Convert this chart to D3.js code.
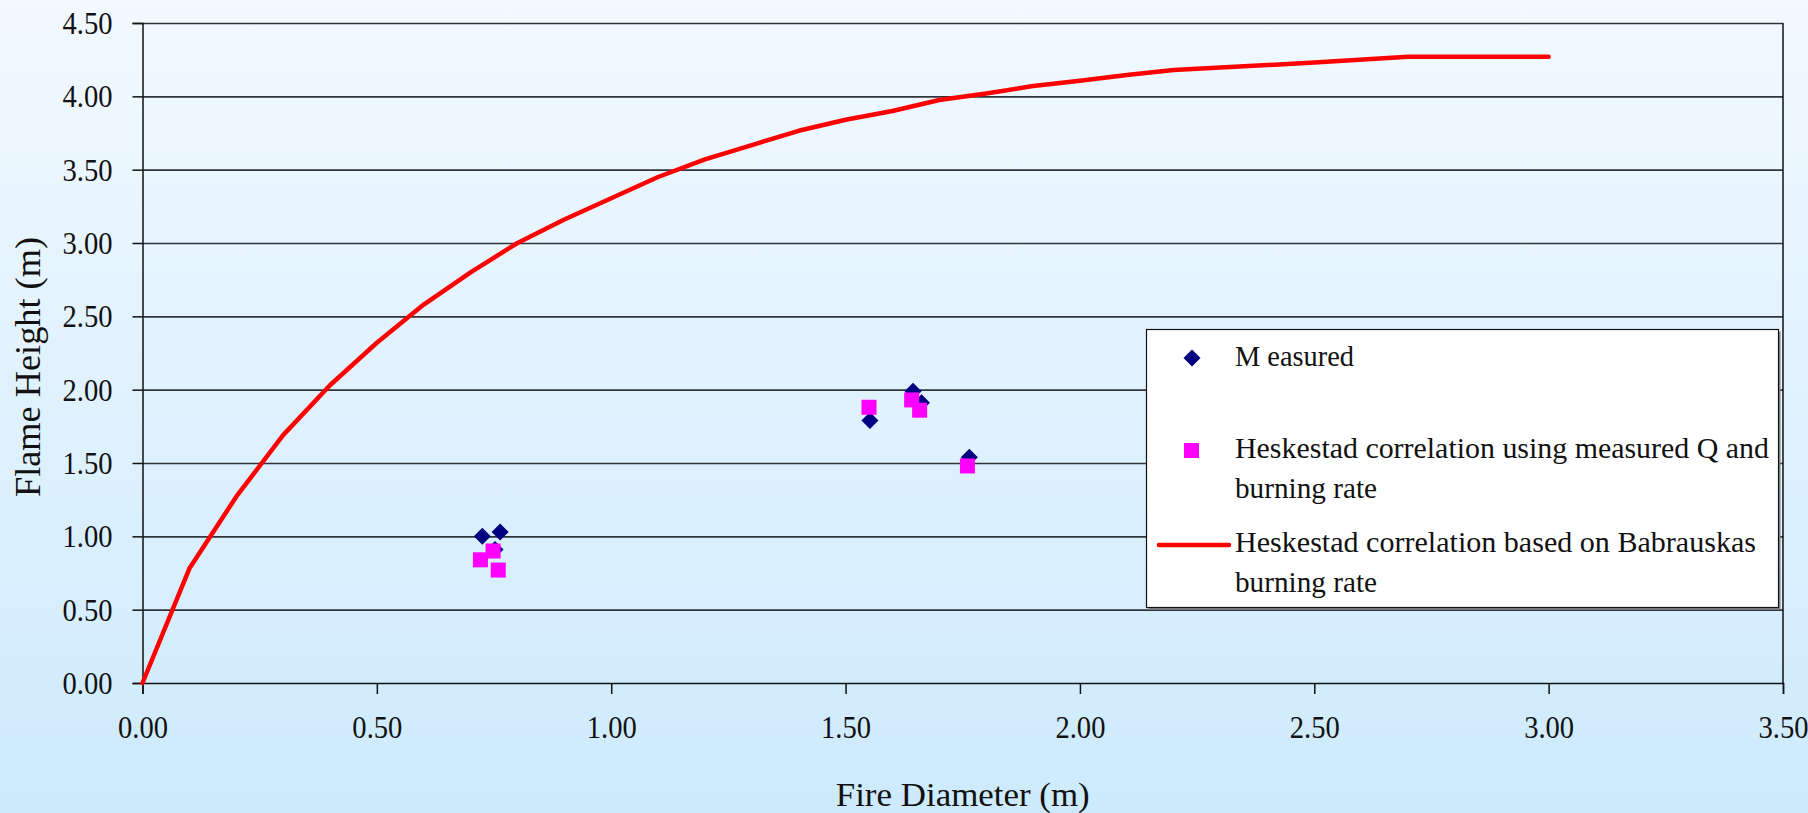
<!DOCTYPE html>
<html><head><meta charset="utf-8">
<script src="https://cdn.jsdelivr.net/npm/d3@7"></script>
<style>html,body{margin:0;padding:0;}body{width:1808px;height:813px;overflow:hidden;}</style>
</head><body>
<svg id="c" width="1808" height="813"></svg>
<script>
// ---- data ----
const xTickValues = [0, 0.5, 1.0, 1.5, 2.0, 2.5, 3.0, 3.5];
const yTickValues = [0, 0.5, 1.0, 1.5, 2.0, 2.5, 3.0, 3.5, 4.0, 4.5];

const curveDiameter = [0, 0.1, 0.2, 0.3, 0.4, 0.5, 0.6, 0.7, 0.8, 0.9, 1.0, 1.1, 1.2, 1.3, 1.4, 1.5, 1.6, 1.7, 1.8, 1.9, 2.0, 2.1, 2.2, 2.5, 2.7, 3.0];
const curveHeight   = [0, 0.78, 1.27, 1.69, 2.03, 2.32, 2.58, 2.80, 3.00, 3.16, 3.305, 3.45, 3.57, 3.668, 3.765, 3.84, 3.90, 3.975, 4.02, 4.07, 4.106, 4.145, 4.18, 4.23, 4.27, 4.27];

const measuredDiameter = [0.725, 0.763, 0.752, 1.552, 1.644, 1.662, 1.764];
const measuredHeight   = [1.00, 1.03, 0.91, 1.79, 1.99, 1.91, 1.54];

const heskDiameter = [0.721, 0.748, 0.759, 1.550, 1.641, 1.658, 1.760];
const heskHeight   = [0.84, 0.90, 0.77, 1.88, 1.93, 1.86, 1.48];

const legendLabels = [
  ["M easured"],
  ["Heskestad correlation using measured Q and", "burning rate"],
  ["Heskestad correlation based on Babrauskas", "burning rate"]
];
const xTitle = "Fire Diameter (m)";
const yTitle = "Flame Height (m)";

// ---- layout ----
const W = 1808, H = 813;
const L = 142.5, R = 1783, T = 23, B = 683;
const FONT = "'Liberation Serif','Times New Roman',serif";

const svg = d3.select("#c");
const defs = svg.append("defs");
const grad = defs.append("linearGradient").attr("id","bg").attr("x1",0).attr("y1",0).attr("x2",0).attr("y2",1);
grad.append("stop").attr("offset","0%").attr("stop-color","#f2f9ff");
grad.append("stop").attr("offset","100%").attr("stop-color","#cdeafd");
svg.append("rect").attr("width",W).attr("height",H).attr("fill","url(#bg)");

const x = d3.scaleLinear().domain([0,3.5]).range([L,R]);
const y = d3.scaleLinear().domain([0,4.5]).range([B,T]);

// grid lines
const grid = svg.append("g").attr("transform",`translate(${L},0)`)
  .call(d3.axisLeft(y).tickValues(yTickValues.filter(v=>v>0)).tickSize(-(R-L)).tickFormat(""));
grid.select(".domain").remove();
grid.selectAll("line").attr("stroke","#30353a").attr("stroke-width",1.6);

// right border
svg.append("line").attr("x1",R).attr("x2",R).attr("y1",T).attr("y2",B).attr("stroke","#111").attr("stroke-width",1.5);

// y axis
const ya = svg.append("g").attr("transform",`translate(${L},0)`)
  .call(d3.axisLeft(y).tickValues(yTickValues).tickSize(10).tickPadding(20).tickFormat(d3.format(".2f")));
ya.select(".domain").attr("stroke","#111").attr("stroke-width",1.5);
ya.selectAll(".tick line").attr("stroke","#111").attr("stroke-width",1.5);
ya.selectAll(".tick text").attr("font-family",FONT).attr("font-size",31).attr("fill","#111")
  .attr("textLength",50).attr("lengthAdjust","spacingAndGlyphs").attr("dy","0.34em");

// x axis
const xa = svg.append("g").attr("transform",`translate(0,${B})`)
  .call(d3.axisBottom(x).tickValues(xTickValues).tickSize(11).tickPadding(28).tickFormat(d3.format(".2f")));
xa.select(".domain").attr("stroke","#111").attr("stroke-width",1.5);
xa.selectAll(".tick line").attr("stroke","#111").attr("stroke-width",1.5);
xa.selectAll(".tick text").attr("font-family",FONT).attr("font-size",31).attr("fill","#111")
  .attr("textLength",50).attr("lengthAdjust","spacingAndGlyphs").attr("dy","0.5em");

// curve
const curveData = curveDiameter.map((d,i)=>({d, h:curveHeight[i]}));
svg.append("path").datum(curveData)
  .attr("d", d3.line().x(p=>x(p.d)).y(p=>y(p.h)))
  .attr("fill","none").attr("stroke","#ff0000").attr("stroke-width",4.5)
  .attr("stroke-linejoin","round").attr("stroke-linecap","round");

// measured diamonds
const measured = measuredDiameter.map((d,i)=>({d, h:measuredHeight[i]}));
svg.append("g").selectAll("path").data(measured).join("path")
  .attr("transform",p=>`translate(${x(p.d)},${y(p.h)})`)
  .attr("d","M0,-8.5L8.5,0L0,8.5L-8.5,0Z").attr("fill","#000080");

// heskestad squares
const hesk = heskDiameter.map((d,i)=>({d, h:heskHeight[i]}));
svg.append("g").selectAll("rect").data(hesk).join("rect")
  .attr("x",p=>x(p.d)-7.5).attr("y",p=>y(p.h)-7.5).attr("width",15).attr("height",15)
  .attr("fill","#ff00ff");

// legend
const lg = svg.append("g");
lg.append("rect").attr("x",1148.5).attr("y",331.5).attr("width",632).attr("height",278).attr("fill","#888");
lg.append("rect").attr("x",1146.5).attr("y",329.5).attr("width",632).attr("height",278)
  .attr("fill","#ffffff").attr("stroke","#111").attr("stroke-width",1.2);
lg.append("path").attr("transform","translate(1192,358)").attr("d","M0,-8.5L8.5,0L0,8.5L-8.5,0Z").attr("fill","#000080");
lg.append("rect").attr("x",1184).attr("y",443).attr("width",15).attr("height",15).attr("fill","#ff00ff");
lg.append("line").attr("x1",1159).attr("x2",1229).attr("y1",545).attr("y2",545)
  .attr("stroke","#ff0000").attr("stroke-width",4.5).attr("stroke-linecap","round");
const baselines = [[366],[458,498],[552,592]];
const widths = [[119],[534,142],[521,142]];
legendLabels.forEach((lines,i)=>{
  lines.forEach((t,j)=>{
    lg.append("text").attr("x",1235).attr("y",baselines[i][j])
      .attr("font-family",FONT).attr("font-size",29).attr("fill","#111")
      .attr("textLength",widths[i][j]).attr("lengthAdjust","spacingAndGlyphs").text(t);
  });
});

// axis titles
svg.append("text").attr("x",(L+R)/2).attr("y",806).attr("text-anchor","middle")
  .attr("font-family",FONT).attr("font-size",33).attr("fill","#111")
  .attr("textLength",254).attr("lengthAdjust","spacingAndGlyphs").text(xTitle);
svg.append("text").attr("transform",`translate(40,367) rotate(-90)`).attr("text-anchor","middle")
  .attr("font-family",FONT).attr("font-size",35).attr("fill","#111")
  .attr("textLength",260).attr("lengthAdjust","spacingAndGlyphs").text(yTitle);
</script>
</body></html>
